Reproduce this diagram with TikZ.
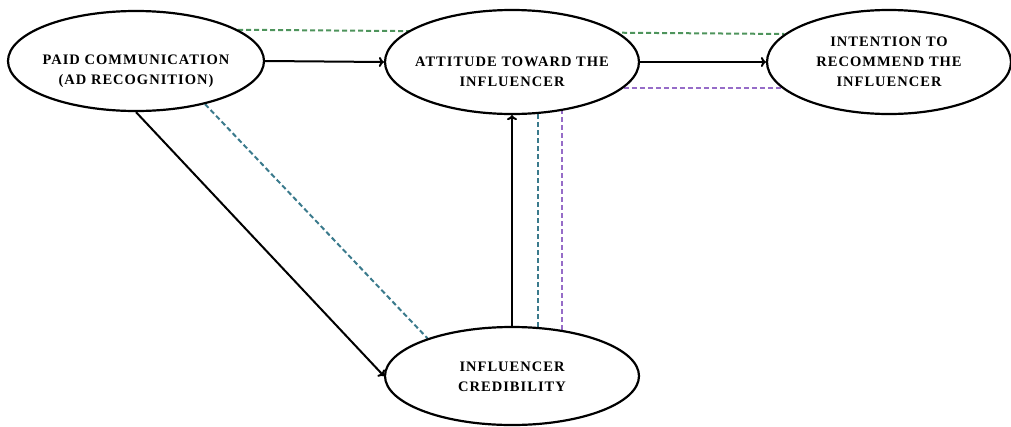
\documentclass[tikz,border=0pt]{standalone}
\usepackage{fontspec}
\setmainfont{Liberation Serif}
\newfontfamily\boxfont[LetterSpace=7]{Liberation Serif}
\usetikzlibrary{shapes.geometric,backgrounds,arrows.meta}
\definecolor{pathgreen}{RGB}{78,148,92}
\definecolor{pathteal}{RGB}{58,122,140}
\definecolor{pathpurple}{RGB}{150,108,200}
\begin{document}
\begin{tikzpicture}[x=1pt,y=-1pt,
  construct/.style={ellipse, draw, line width=2.2pt, fill=white, inner sep=0pt},
  tag/.style={align=center, inner sep=0pt, font=\boxfont\fontsize{14.5}{20}\selectfont\bfseries},
  arr/.style={-{To[length=5pt,width=10pt]}, line width=2pt},
  mediate/.style={dash pattern=on 5pt off 3pt, line width=2pt}]
\useasboundingbox (0,0) rectangle (1011,426);
\node[construct, minimum width=256pt, minimum height=100pt] (paid) at (136,61) {};
\node[construct, minimum width=254pt, minimum height=104pt] (att) at (512,62) {};
\node[construct, minimum width=244pt, minimum height=104pt] (int) at (889,62) {};
\node[construct, minimum width=254pt, minimum height=98pt] (cred) at (512,376) {};
\node[tag] (paidtxt) at ([yshift=-10pt]paid.center) {PAID COMMUNICATION\\(AD RECOGNITION)};
\node[tag] (atttxt) at ([yshift=-10pt]att.center) {ATTITUDE TOWARD THE\\INFLUENCER};
\node[tag] (inttxt) at (int.center) {INTENTION TO\\RECOMMEND THE\\INFLUENCER};
\node[tag] (credtxt) at ([yshift=-1pt]cred.center) {INFLUENCER\\CREDIBILITY};
% direct paths
\draw[arr] (paid.east) -- (att.west);
\draw[arr] (att.east) -- (int.west);
\draw[arr] (paid.south) -- (cred.west);
\draw[arr] (cred.north) -- (att.south);
% mediation paths
\begin{scope}[on background layer]
\draw[mediate, pathgreen] (paid.17) -- (int.165);
\draw[mediate, pathteal] (paid.-32) -- (cred.156);
\draw[mediate, pathteal] ([xshift=0.5pt]cred.63) -- ([xshift=0.5pt]cred.63 |- att.-64);
\draw[mediate, pathpurple] ([xshift=0.5pt]cred.43) -- ([xshift=0.5pt]cred.43 |- att.-44);
\draw[mediate, pathpurple] (att.-13) -- (att.-13 -| int.-166);
\end{scope}
\end{tikzpicture}
\end{document}
